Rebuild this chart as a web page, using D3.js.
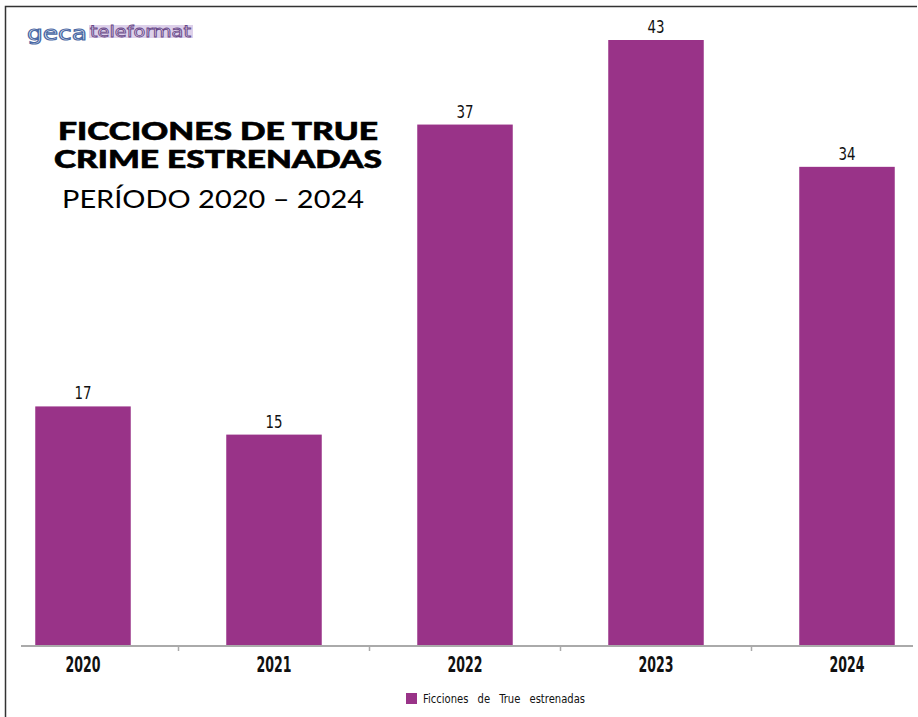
<!DOCTYPE html>
<html>
<head>
<meta charset="utf-8">
<script src="https://cdn.jsdelivr.net/npm/d3@7"></script>
<style>
  body { margin: 0; background: #fff; }
  svg { display: block; }
</style>
</head>
<body>
<div id="chart"></div>
<script>
// data
const years = ["2020", "2021", "2022", "2023", "2024"];
const estrenos = [17, 15, 37, 43, 34];
const seriesName = "Ficciones de True estrenadas";
const titleLines = ["FICCIONES DE TRUE", "CRIME ESTRENADAS"];
const subtitle = "PERÍODO 2020 – 2024";

const svgWidth = 918;
const svgHeight = 717;
const barColor = "#993388";
const narrow = "'DejaVu Sans Condensed', 'DejaVu Sans', sans-serif";

const svg = d3.select("#chart")
  .append("svg")
  .attr("width", svgWidth)
  .attr("height", svgHeight);

// frame (top and left only)
svg.append("path")
  .attr("d", "M5.5,717 L5.5,6.5 L917,6.5")
  .attr("fill", "none")
  .attr("stroke", "#333")
  .attr("stroke-width", 1.5);

// scales
const baseY = 646;
const xScale = d3.scaleBand(years, [-12.5, 942.5]).paddingInner(0.5).paddingOuter(0.25);
const yScale = d3.scaleLinear([0, 43], [baseY, 40]);

// bars
svg.selectAll("rect.bar")
  .data(estrenos)
  .enter()
  .append("rect")
  .attr("class", "bar")
  .attr("x", (d, i) => xScale(years[i]))
  .attr("y", d => yScale(d))
  .attr("width", xScale.bandwidth())
  .attr("height", d => baseY - yScale(d))
  .attr("fill", barColor);

// value labels (squeezed to look like the condensed face)
svg.selectAll("text.value")
  .data(estrenos)
  .enter()
  .append("text")
  .attr("class", "value")
  .attr("x", (d, i) => xScale(years[i]) + xScale.bandwidth() / 2)
  .attr("y", d => yScale(d) - 7)
  .attr("text-anchor", "middle")
  .attr("textLength", 17)
  .attr("lengthAdjust", "spacingAndGlyphs")
  .style("font-family", narrow)
  .style("font-size", "18px")
  .style("fill", "#111")
  .text(d => d);

// x axis
const xAxis = svg.append("g")
  .attr("transform", `translate(0,${baseY})`);
xAxis.append("line")
  .attr("x1", 21).attr("x2", 913)
  .attr("stroke", "#aaa")
  .attr("stroke-width", 2);
// ticks between bands
xAxis.selectAll("line.tick")
  .data(years.slice(1))
  .enter()
  .append("line")
  .attr("class", "tick")
  .attr("x1", d => xScale(d) - xScale.step() * xScale.paddingInner() / 2)
  .attr("x2", d => xScale(d) - xScale.step() * xScale.paddingInner() / 2)
  .attr("y1", 0).attr("y2", 5)
  .attr("stroke", "#aaa")
  .attr("stroke-width", 1.5);
xAxis.selectAll("text")
  .data(years)
  .enter()
  .append("text")
  .attr("x", d => xScale(d) + xScale.bandwidth() / 2)
  .attr("y", 26)
  .attr("text-anchor", "middle")
  .attr("textLength", 35)
  .attr("lengthAdjust", "spacingAndGlyphs")
  .style("font-family", narrow)
  .style("font-weight", "bold")
  .style("font-size", "21px")
  .style("fill", "#111")
  .text(d => d);

// legend
const legend = svg.append("g").attr("transform", "translate(406,693)");
legend.append("rect")
  .attr("width", 11).attr("height", 11)
  .attr("fill", barColor);
legend.append("text")
  .attr("x", 17).attr("y", 10)
  .attr("textLength", 162)
  .attr("lengthAdjust", "spacingAndGlyphs")
  .style("font-family", narrow)
  .style("font-size", "13px")
  .style("word-spacing", "7px")
  .style("fill", "#111")
  .text(seriesName);

// title block
const titleFont = "Lato, 'Open Sans', sans-serif";
const titleWidths = [320, 328];
svg.selectAll("text.title")
  .data(titleLines)
  .enter()
  .append("text")
  .attr("class", "title")
  .attr("x", 218)
  .attr("y", (d, i) => 140 + i * 28)
  .attr("text-anchor", "middle")
  .attr("textLength", (d, i) => titleWidths[i])
  .attr("lengthAdjust", "spacingAndGlyphs")
  .style("font-family", titleFont)
  .style("font-weight", "900")
  .style("font-size", "24px")
  .style("fill", "#000")
  .style("stroke", "#000")
  .style("stroke-width", 0.6)
  .text(d => d);
svg.append("text")
  .attr("x", 213)
  .attr("y", 208)
  .attr("text-anchor", "middle")
  .attr("textLength", 302)
  .attr("lengthAdjust", "spacingAndGlyphs")
  .style("font-family", titleFont)
  .style("font-size", "25px")
  .style("fill", "#000")
  .text(subtitle);

// logo
const logo = svg.append("g").attr("transform", "translate(27,40)");
logo.append("rect")
  .attr("x", 62).attr("y", -15)
  .attr("width", 104).attr("height", 13)
  .attr("fill", "#ddd0ea");
logo.append("text")
  .attr("x", 0).attr("y", 0)
  .attr("textLength", 60)
  .attr("lengthAdjust", "spacingAndGlyphs")
  .style("font-family", "'DejaVu Sans', sans-serif")
  .style("font-size", "20px")
  .style("fill", "#e6ecf6")
  .style("stroke", "#4a68a4")
  .style("stroke-width", 1.1)
  .text("geca");
logo.append("text")
  .attr("x", 63).attr("y", -3)
  .attr("textLength", 101)
  .attr("lengthAdjust", "spacingAndGlyphs")
  .style("font-family", "'DejaVu Sans', sans-serif")
  .style("font-size", "15px")
  .style("fill", "#eee4f4")
  .style("stroke", "#6a4a8a")
  .style("stroke-width", 0.8)
  .text("teleformat");
</script>
</body>
</html>
